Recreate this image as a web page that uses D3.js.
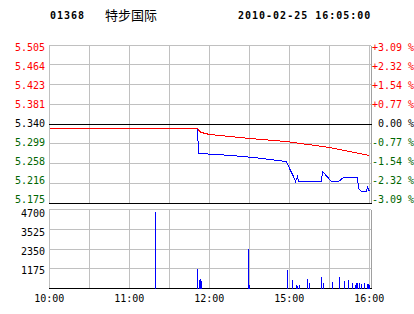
<!DOCTYPE html>
<html><head><meta charset="utf-8">
<script src="https://cdn.jsdelivr.net/npm/d3@7"></script>
<style>
body{margin:0;background:#fff;}
svg{display:block;}
text{font-family:"DejaVu Sans Mono",monospace;font-size:10px;}
</style></head><body>
<svg id="c" width="414" height="314"></svg>
<script>
// ---- data ----
const stockCode = "01368";
const stockName = "特步国际";
const stamp = "2010-02-25 16:05:00";
const prevClose = 5.340;
const priceTicks = [5.505, 5.464, 5.423, 5.381, 5.340, 5.299, 5.258, 5.216, 5.175];
const pctTicks = ["+3.09 %", "+2.32 %", "+1.54 %", "+0.77 %", " 0.00 %", "-0.77 %", "-1.54 %", "-2.32 %", "-3.09 %"];
const volTicks = [4700, 3525, 2350, 1175];
const volMax = 4700;
const timeLabels = ["10:00", "11:00", "12:00", "15:00", "16:00"];
const gridTimes = ["10:00", "10:30", "11:00", "11:30", "12:00", "12:30", "15:00", "15:30", "16:00"];

const priceTimes = ["10:00","11:51","11:52","12:06","12:26","14:40","14:57","14:58","15:00","15:03","15:05","15:06","15:07","15:24","15:25","15:32","15:37","15:41","15:51","15:52","15:54","15:58","15:59","16:00"];
const priceValues = [5.330,5.330,5.279,5.277,5.273,5.267,5.262,5.262,5.248,5.231,5.219,5.230,5.220,5.220,5.240,5.220,5.220,5.229,5.229,5.206,5.200,5.200,5.208,5.200];

const avgTimes = ["10:00","11:51","11:52","11:53","11:54","11:57","12:00","12:30","14:58","15:30","16:00"];
const avgValues = [5.330,5.330,5.328,5.325,5.322,5.320,5.3185,5.3087,5.3035,5.291,5.2746];

const volTimes = ["11:19","11:51","11:52","11:53","11:54","12:29","12:30","14:58","15:02","15:05","15:06","15:07","15:13","15:15","15:24","15:25","15:32","15:37","15:41","15:44","15:47","15:49","15:50","15:51","15:52","15:54","15:56","15:58","15:59","16:00"];
const volValues = [4540,1150,490,550,430,2340,200,1090,490,200,150,200,550,330,670,330,390,690,450,510,330,200,300,330,300,280,320,250,280,200];

// ---- helpers ----
function minuteIndex(t){
  const [h, m] = t.split(":").map(Number);
  const v = h * 60 + m;
  return v <= 750 ? v - 600 : v - 870 + 150;
}

const svg = d3.select("#c");
const L = 49.3, R = 369.3, RB = 371;
const x = d3.scaleLinear().domain([0, 240]).range([L, R]);
const y = d3.scaleLinear().domain([5.175, 5.505]).range([203, 45]);
const yLab = d3.scaleLinear().domain([5.175, 5.505]).range([199.3, 47.7]);
const yv = d3.scaleLinear().domain([0, volMax]).range([288.5, 209.5]);
const yvLab = d3.scaleLinear().domain([0, volMax]).range([289, 213.3]);
const px = v => Math.floor(v) + 0.5;

const RED = "#ff0000", GREEN = "#006600", GRID = "#c0c0c0";

// header
svg.append("text").attr("x", 50).attr("y", 18.7).attr("font-weight", "bold")
  .style("letter-spacing", "1px").text(stockCode);
svg.append("text").attr("x", 105).attr("y", 19.5)
  .style("font-family", "'Noto Sans CJK SC', sans-serif").style("font-size", "13px").text(stockName);
svg.append("text").attr("x", 238).attr("y", 18.7).attr("font-weight", "bold")
  .style("letter-spacing", "1px").text(stamp);

const grid = svg.append("g").attr("shape-rendering", "crispEdges");

// main panel horizontal grid
priceTicks.forEach(v => {
  grid.append("line").attr("x1", L).attr("x2", RB).attr("y1", px(y(v))).attr("y2", px(y(v)))
    .attr("stroke", (v === prevClose || v === 5.175) ? "#000" : GRID);
});
// vertical grid, both panels
gridTimes.forEach(t => {
  const xx = px(x(minuteIndex(t)));
  grid.append("line").attr("x1", xx).attr("x2", xx).attr("y1", px(y(5.505))).attr("y2", px(y(5.175)))
    .attr("stroke", GRID);
  grid.append("line").attr("x1", xx).attr("x2", xx).attr("y1", px(yv(volMax))).attr("y2", px(yv(0)))
    .attr("stroke", GRID);
});
// right borders
[[y(5.505), y(5.175)], [yv(volMax), yv(0)]].forEach(([a, b]) => {
  grid.append("line").attr("x1", px(RB)).attr("x2", px(RB)).attr("y1", px(a)).attr("y2", px(b)).attr("stroke", "#a0a0a0");
});
// volume horizontal grid
[0].concat(volTicks).forEach(v => {
  grid.append("line").attr("x1", L).attr("x2", RB).attr("y1", px(yv(v))).attr("y2", px(yv(v)))
    .attr("stroke", v === 0 ? "#000" : GRID);
});
// redraw black lines on top
[prevClose, 5.175].forEach(v => grid.append("line").attr("x1", L).attr("x2", RB + 1)
  .attr("y1", px(y(v))).attr("y2", px(y(v))).attr("stroke", "#000"));
grid.append("line").attr("x1", L).attr("x2", RB + 1).attr("y1", px(yv(0))).attr("y2", px(yv(0))).attr("stroke", "#000");

// left price labels & right pct labels
priceTicks.forEach((v, i) => {
  const col = v > prevClose ? RED : (v < prevClose ? GREEN : "#000");
  svg.append("text").attr("x", 45).attr("y", yLab(v) + 3.6).attr("text-anchor", "end")
    .attr("fill", col).text(v.toFixed(3));
  svg.append("text").attr("x", 372).attr("y", yLab(v) + 3.6).attr("fill", col)
    .style("white-space", "pre").attr("xml:space", "preserve").text(pctTicks[i]);
});
// volume labels
volTicks.forEach(v => {
  svg.append("text").attr("x", 45).attr("y", yvLab(v) + 3.6).attr("text-anchor", "end").text(v);
});
// time labels
timeLabels.forEach(t => {
  svg.append("text").attr("x", x(minuteIndex(t))).attr("y", 302).attr("text-anchor", "middle").text(t);
});

// volume bars
svg.append("g").attr("shape-rendering", "crispEdges").selectAll("rect")
  .data(volTimes.map((t, i) => ({ t, v: volValues[i] })))
  .join("rect")
  .attr("x", d => Math.round(x(minuteIndex(d.t))))
  .attr("width", 1)
  .attr("y", d => yv(d.v))
  .attr("height", d => yv(0) - yv(d.v))
  .attr("fill", "#0000ff");

// price lines
const line = d3.line().x(d => px(x(minuteIndex(d.t)))).y(d => px(y(d.v)));
svg.append("path").datum(priceTimes.map((t, i) => ({ t, v: priceValues[i] })))
  .attr("d", line).attr("fill", "none").attr("stroke", "#0000ff").attr("stroke-width", 1)
  .attr("shape-rendering", "crispEdges");
svg.append("path").datum(avgTimes.map((t, i) => ({ t, v: avgValues[i] })))
  .attr("d", line).attr("fill", "none").attr("stroke", RED).attr("stroke-width", 1)
  .attr("shape-rendering", "crispEdges");
</script>
</body></html>
